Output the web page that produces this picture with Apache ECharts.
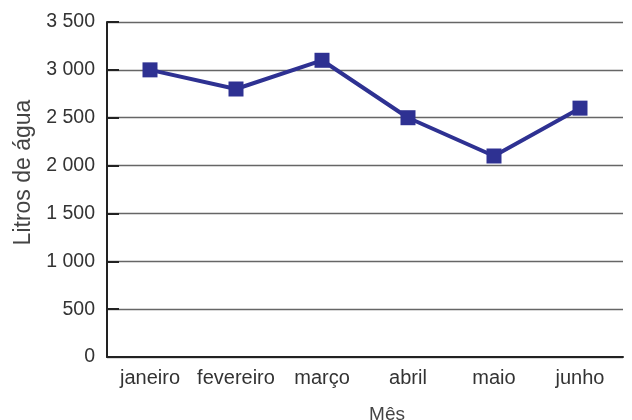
<!DOCTYPE html>
<html><head><meta charset="utf-8">
<script src="https://cdn.jsdelivr.net/npm/echarts@6/dist/echarts.min.js"></script>
<style>html,body{margin:0;padding:0;background:#fff}#c{width:632px;height:420px}</style>
</head><body><div id="c"></div>
<script>
const categories = ['janeiro','fevereiro','março','abril','maio','junho'];
const litros = [3000, 2800, 3100, 2500, 2100, 2600];
const yTicks = [0, 500, 1000, 1500, 2000, 2500, 3000, 3500];

const chart = echarts.init(document.getElementById('c'), null, {renderer:'canvas'});
const fmt = v => { const s = String(v); return s.length > 3 ? s.slice(0, s.length-3) + ' ' + s.slice(-3) : s; };
chart.setOption({
  animation:false,
  grid:{left:107, right:9, top:22, bottom:63, containLabel:false, outerBoundsMode:'none'},
  xAxis:{
    type:'category', data:categories, boundaryGap:true,
    name:'Mês', nameLocation:'middle', nameGap:48,
    nameTextStyle:{fontFamily:'Liberation Sans', fontSize:19, color:'#444', padding:[0,0,0,44]},
    axisLine:{lineStyle:{color:'#222', width:2}},
    axisTick:{inside:true, length:7, lineStyle:{color:'#222', width:2}},
    axisLabel:{fontFamily:'Liberation Sans', fontSize:20, color:'#333', margin:11, interval:0, hideOverlap:false},
  },
  yAxis:{
    type:'value', min:yTicks[0], max:yTicks[yTicks.length-1], interval:500,
    name:'Litros de água', nameLocation:'middle', nameGap:72,
    nameTextStyle:{fontFamily:'Liberation Sans', fontSize:23, color:'#444', padding:[0,0,0,34]},
    axisLine:{show:true, lineStyle:{color:'#222', width:2}},
    axisTick:{show:true, inside:true, length:12, lineStyle:{color:'#222', width:2}},
    axisLabel:{fontFamily:'Liberation Sans', fontSize:19.5, color:'#333', margin:12, formatter:fmt},
    splitLine:{show:true, lineStyle:{color:'#666', width:1.3}}
  },
  series:[{
    type:'line', data:litros,
    symbol:'rect', symbolSize:15,
    lineStyle:{color:'#2e3192', width:4},
    itemStyle:{color:'#2e3192'}
  }]
});
</script></body></html>
